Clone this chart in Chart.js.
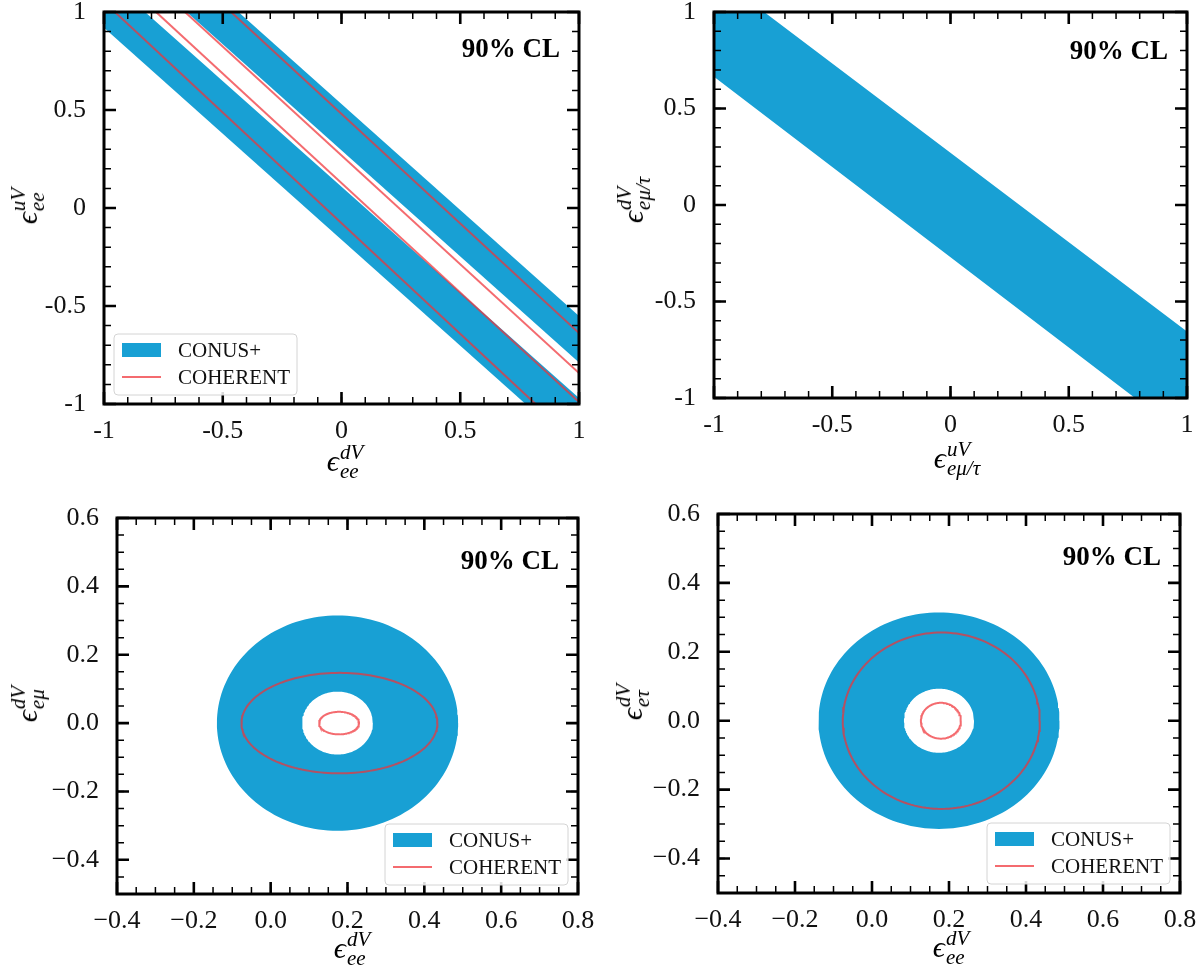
<!DOCTYPE html>
<html>
<head>
<meta charset="utf-8">
<script src="https://cdn.jsdelivr.net/npm/chart.js@4.4.1/dist/chart.umd.min.js"></script>
<style>
  html, body { margin: 0; padding: 0; background: #fff; }
  body { width: 1201px; height: 970px; position: relative; overflow: hidden; font-family: 'Liberation Serif', 'DejaVu Serif', serif; }
  .panel { position: absolute; }
  .ttl { position: absolute; transform: translate(-50%, -50%); font-size: 30px; line-height: 1; white-space: nowrap; color: #000; }
  .ttl.rot { transform: translate(-50%, -50%) rotate(-90deg); }
  .eps { font-style: italic; font-weight: normal; }
  .ss { display: inline-block; vertical-align: -7px; font-size: 21px; line-height: 19px; font-style: italic; margin-left: 1px; }
  .ss span { display: block; }
</style>
</head>
<body>
<div class="panel" style="left:0;top:0;width:600px;height:485px"><canvas id="c1"></canvas></div>
<div class="panel" style="left:600px;top:0;width:601px;height:485px"><canvas id="c2"></canvas></div>
<div class="panel" style="left:0;top:485px;width:600px;height:485px"><canvas id="c3"></canvas></div>
<div class="panel" style="left:600px;top:485px;width:601px;height:485px"><canvas id="c4"></canvas></div>

<div class="ttl" style="left:345px;top:462px"><span class="eps">ϵ</span><span class="ss"><span>dV</span><span>ee</span></span></div>
<div class="ttl rot" style="left:28px;top:206px"><span class="eps">ϵ</span><span class="ss"><span>uV</span><span>ee</span></span></div>
<div class="ttl" style="left:957px;top:459px"><span class="eps">ϵ</span><span class="ss"><span>uV</span><span>eμ/τ</span></span></div>
<div class="ttl rot" style="left:634px;top:200px"><span class="eps">ϵ</span><span class="ss"><span>dV</span><span>eμ/τ</span></span></div>
<div class="ttl" style="left:352px;top:949px"><span class="eps">ϵ</span><span class="ss"><span>dV</span><span>ee</span></span></div>
<div class="ttl rot" style="left:28px;top:704px"><span class="eps">ϵ</span><span class="ss"><span>dV</span><span>eμ</span></span></div>
<div class="ttl" style="left:951px;top:948px"><span class="eps">ϵ</span><span class="ss"><span>dV</span><span>ee</span></span></div>
<div class="ttl rot" style="left:633px;top:702px"><span class="eps">ϵ</span><span class="ss"><span>dV</span><span>eτ</span></span></div>

<script>
// CONUS+ / COHERENT 90% CL allowed regions, four NSI planes

const BLUE = '#18a0d4';
const RED = 'rgba(240, 50, 55, 0.72)';
const FONT = "'Liberation Serif', 'DejaVu Serif', serif";

// ---- (a) eps_ee^dV (x) vs eps_ee^uV (y) ----
// CONUS+ bands, corners where the band edges meet the frame
const eeBandLower = [[-1, 0.92], [0.775, -1], [1, -1], [1, -0.97], [-0.827, 1], [-1, 1]];
const eeBandUpper = [[-0.652, 1], [1, -0.788], [1, -0.551], [-0.434, 1]];
// COHERENT lines, end points on the frame
const eeCoh1 = [[-0.954, 1], [0.817, -1]];
const eeCoh2 = [[-0.781, 1], [1, -0.99]];
const eeCoh3 = [[-0.659, 1], [1, -0.842]];
const eeCoh4 = [[-0.465, 1], [1, -0.638]];

// ---- (b) eps_emu/tau^uV (x) vs eps_emu/tau^dV (y) ----
const emtBand = [[-1, 1], [-0.788, 1], [1, -0.656], [1, -1], [0.78, -1], [-1, 0.665]];

// ---- (c) eps_ee^dV vs eps_emu^dV : ellipses [cx, cy, rx, ry] ----
const emConusOuter = [0.174, 0, 0.314, 0.315];
const emConusInner = [0.174, 0, 0.092, 0.092];
const emCohOuter = [0.179, 0, 0.255, 0.147];
const emCohInner = [0.178, 0, 0.052, 0.033];

// ---- (d) eps_ee^dV vs eps_etau^dV ----
const etConusOuter = [0.174, 0, 0.313, 0.314];
const etConusInner = [0.174, 0, 0.091, 0.093];
const etCohOuter = [0.18, 0, 0.256, 0.256];
const etCohInner = [0.179, 0, 0.052, 0.052];

// tick labels
const ticksUnit = [-1, -0.5, 0, 0.5, 1];
const ticksEeX = [-0.4, -0.2, 0, 0.2, 0.4, 0.6, 0.8];
const ticksOffY = [-0.4, -0.2, 0, 0.2, 0.4, 0.6];

const legendLabels = ['CONUS+', 'COHERENT'];
const clText = '90% CL';

// ---- helpers ----
const pts = arr => arr.map(p => ({x: p[0], y: p[1]}));

function ellipse(e) {
  const out = [];
  for (let k = 0; k <= 160; k++) {
    const t = 2 * Math.PI * k / 160;
    out.push({x: e[0] + e[2] * Math.cos(t), y: e[1] + e[3] * Math.sin(t)});
  }
  return out;
}
const ring = (outer, inner) => ellipse(outer).concat(ellipse(inner).reverse());

const area = data => ({data, showLine: true, fill: 'shape', backgroundColor: BLUE,
  borderWidth: 0, pointRadius: 0, order: 2});
const contour = data => ({data, showLine: true, fill: false, borderColor: RED,
  borderWidth: 2, pointRadius: 0, order: 1});

const fmtPlain = v => String(v);
const fmtMinus = v => (Math.abs(v) < 1e-9 ? 0 : v).toFixed(1).replace('-', '\u2212');

// inward ticks on all four sides + thick frame
const framePlugin = {
  id: 'frame',
  afterDatasetsDraw(chart, args, o) {
    const {ctx, chartArea: a, scales: {x, y}} = chart;
    ctx.save();
    ctx.strokeStyle = '#000';
    const tickX = (v, len, w) => {
      const p = x.getPixelForValue(v);
      ctx.lineWidth = w;
      ctx.beginPath();
      ctx.moveTo(p, a.bottom); ctx.lineTo(p, a.bottom - len);
      ctx.moveTo(p, a.top); ctx.lineTo(p, a.top + len);
      ctx.stroke();
    };
    const tickY = (v, len, w) => {
      const p = y.getPixelForValue(v);
      ctx.lineWidth = w;
      ctx.beginPath();
      ctx.moveTo(a.left, p); ctx.lineTo(a.left + len, p);
      ctx.moveTo(a.right, p); ctx.lineTo(a.right - len, p);
      ctx.stroke();
    };
    const n = Math.round((x.max - x.min) / o.minorX);
    for (let i = 0; i <= n; i++) tickX(x.min + i * o.minorX, 7, 1.5);
    const m = Math.round((y.max - y.min) / o.minorY);
    for (let i = 0; i <= m; i++) tickY(y.min + i * o.minorY, 7, 1.5);
    x.ticks.forEach(t => tickX(t.value, 12, 2.6));
    y.ticks.forEach(t => tickY(t.value, 12, 2.6));
    ctx.lineWidth = 3;
    ctx.strokeRect(a.left, a.top, a.right - a.left, a.bottom - a.top);
    ctx.restore();
  }
};

// "90% CL" tag and the boxed legend
const notesPlugin = {
  id: 'notes',
  afterDraw(chart, args, o) {
    const {ctx, chartArea: a} = chart;
    ctx.save();
    ctx.fillStyle = '#000';
    ctx.font = 'bold 27px ' + FONT;
    ctx.textAlign = 'right';
    ctx.textBaseline = 'middle';
    ctx.fillText(clText, a.right - 19, a.top + o.clDy);
    if (o.legend) {
      const w = 183, h = 61;
      const bx = o.legend === 'left' ? a.left + 10 : a.right - 10 - w;
      const by = a.bottom - 9 - h;
      ctx.beginPath();
      ctx.roundRect(bx, by, w, h, 4);
      ctx.fillStyle = 'rgba(255,255,255,0.85)';
      ctx.fill();
      ctx.strokeStyle = '#d4d4d4';
      ctx.lineWidth = 1;
      ctx.stroke();
      ctx.fillStyle = BLUE;
      ctx.fillRect(bx + 8, by + 9, 39, 14);
      ctx.strokeStyle = RED;
      ctx.lineWidth = 2;
      ctx.beginPath();
      ctx.moveTo(bx + 8, by + 43); ctx.lineTo(bx + 47, by + 43);
      ctx.stroke();
      ctx.fillStyle = '#111';
      ctx.font = '21px ' + FONT;
      ctx.textAlign = 'left';
      ctx.fillText(legendLabels[0], bx + 64, by + 17);
      ctx.fillText(legendLabels[1], bx + 64, by + 44);
    }
    ctx.restore();
  }
};

function axis(dir, min, max, ticks, fmt, size) {
  return {
    type: 'linear', min, max,
    grid: {display: false}, border: {display: false},
    afterBuildTicks: s => { s.ticks = ticks.map(v => ({value: v})); },
    afterFit: s => {
      if (dir === 'x') s.height = size; else s.width = size;
      s.paddingLeft = s.paddingRight = s.paddingTop = s.paddingBottom = 0;
    },
    ticks: {autoSkip: false, maxRotation: 0, padding: dir === 'x' ? 4 : 10, color: '#111',
      font: {family: FONT, size: 26}, callback: fmt}
  };
}

function makeChart(id, o) {
  return new Chart(document.getElementById(id), {
    type: 'scatter',
    data: {datasets: o.datasets},
    options: {
      responsive: true, maintainAspectRatio: false, animation: false,
      layout: {padding: o.pad},
      plugins: {
        legend: {display: false}, tooltip: {enabled: false},
        frame: {minorX: o.minorX, minorY: o.minorY},
        notes: {legend: o.legend, clDy: o.clDy}
      },
      scales: {x: o.x, y: o.y}
    },
    plugins: [framePlugin, notesPlugin]
  });
}

makeChart('c1', {
  datasets: [
    contour(pts(eeCoh1)), contour(pts(eeCoh2)), contour(pts(eeCoh3)), contour(pts(eeCoh4)),
    area(pts(eeBandLower)), area(pts(eeBandUpper))
  ],
  pad: {left: 0, top: 12, right: 21, bottom: 0},
  x: axis('x', -1, 1, ticksUnit, fmtPlain, 81),
  y: axis('y', -1, 1, ticksUnit, fmtPlain, 104),
  minorX: 0.1, minorY: 0.1, legend: 'left', clDy: 38
});

makeChart('c2', {
  datasets: [area(pts(emtBand))],
  pad: {left: 0, top: 12, right: 14, bottom: 0},
  x: axis('x', -1, 1, ticksUnit, fmtPlain, 87),
  y: axis('y', -1, 1, ticksUnit, fmtPlain, 114),
  minorX: 0.1, minorY: 0.1, legend: null, clDy: 40
});

makeChart('c3', {
  datasets: [contour(ellipse(emCohOuter)), contour(ellipse(emCohInner)), area(ring(emConusOuter, emConusInner))],
  pad: {left: 0, top: 33, right: 22, bottom: 0},
  x: axis('x', -0.4, 0.8, ticksEeX, fmtMinus, 76),
  y: axis('y', -0.5, 0.6, ticksOffY, fmtMinus, 117),
  minorX: 0.05, minorY: 0.05, legend: 'right', clDy: 44
});

makeChart('c4', {
  datasets: [contour(ellipse(etCohOuter)), contour(ellipse(etCohInner)), area(ring(etConusOuter, etConusInner))],
  pad: {left: 0, top: 29, right: 21, bottom: 0},
  x: axis('x', -0.4, 0.8, ticksEeX, fmtMinus, 77),
  y: axis('y', -0.5, 0.6, ticksOffY, fmtMinus, 118),
  minorX: 0.05, minorY: 0.05, legend: 'right', clDy: 44
});
</script>
</body>
</html>
